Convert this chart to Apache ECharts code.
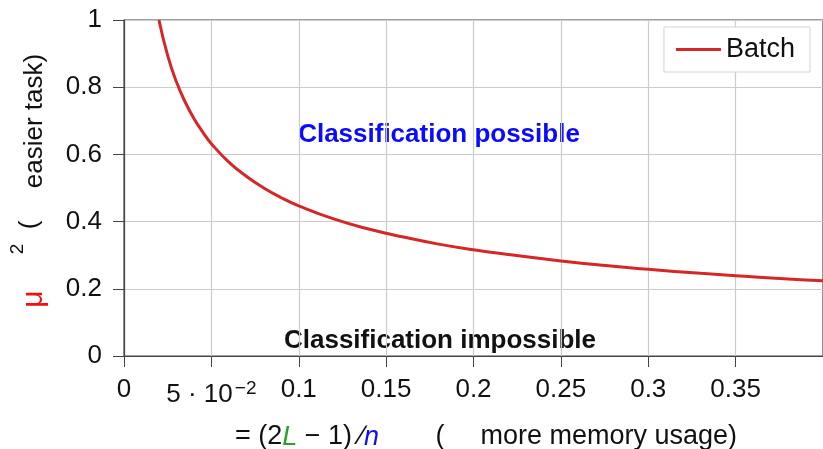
<!DOCTYPE html>
<html><head><meta charset="utf-8">
<script src="https://cdn.jsdelivr.net/npm/echarts@6/dist/echarts.min.js"></script>
<style>html,body{margin:0;padding:0;background:#fff}#c{width:823px;height:449px}</style>
</head><body><div id="c"></div>
<script>
const xValues = [0.02, 0.025, 0.03, 0.035, 0.04, 0.045, 0.05, 0.06, 0.07, 0.08, 0.09, 0.1, 0.12, 0.14, 0.16, 0.18, 0.2, 0.22, 0.25, 0.28, 0.3, 0.33, 0.35, 0.38, 0.4];
const batchValues = [1.0, 0.894, 0.816, 0.756, 0.707, 0.667, 0.632, 0.577, 0.535, 0.5, 0.471, 0.447, 0.408, 0.378, 0.354, 0.333, 0.316, 0.302, 0.283, 0.267, 0.258, 0.246, 0.239, 0.229, 0.224];
const xTicks = [0, 0.05, 0.1, 0.15, 0.2, 0.25, 0.3, 0.35];
const yTicks = [0, 0.2, 0.4, 0.6, 0.8, 1];
const seriesName = 'Batch';

const F = 'Liberation Sans';
const chart = echarts.init(document.getElementById('c'));
chart.setOption({
  animation: false,
  textStyle: {fontFamily: F},
  grid: {left: 124, top: 20, right: 0, bottom: 93, show: true, borderColor: '#444', borderWidth: 1.2},
  legend: {
    right: 13, top: 27, padding: [9, 15, 9, 12],
    borderColor: '#d4d4d4', borderWidth: 1, backgroundColor: '#fff',
    icon: 'rect', itemWidth: 45, itemHeight: 3, itemGap: 8,
    textStyle: {fontFamily: F, fontSize: 27, color: '#111'},
    data: [seriesName]
  },
  xAxis: {
    type: 'value', min: 0, max: 0.4, interval: 0.05,
    axisLine: {show: true, lineStyle: {color: '#444', width: 1.2}},
    axisTick: {show: true, length: 11, lineStyle: {color: '#444'}},
    splitLine: {show: true, lineStyle: {color: '#cccccc', width: 1.2}},
    axisLabel: {
      showMaxLabel: false, margin: 21, fontSize: 26, color: '#111', fontFamily: F,
      formatter: function (v) {
        const t = xTicks.find(k => Math.abs(k - v) < 1e-9);
        if (t === undefined) return '';
        if (Math.abs(t - 0.05) < 1e-9) return '{e|5 · 10}{s|−2}';
        return String(t);
      },
      rich: {
        e: {fontSize: 26, fontFamily: F, color: '#111', padding: [5, 0, 0, 0]},
        s: {fontSize: 19, fontFamily: F, color: '#111', padding: [0, 0, 8, 2]}
      }
    }
  },
  yAxis: {
    type: 'value', min: 0, max: 1, interval: 0.2,
    axisLine: {show: true, lineStyle: {color: '#444', width: 1.2}},
    axisTick: {show: true, length: 11, lineStyle: {color: '#444'}},
    splitLine: {show: true, lineStyle: {color: '#cccccc', width: 1.2}},
    axisLabel: {
      margin: 22, fontSize: 26, color: '#111', fontFamily: F,
      formatter: function (v) {
        const t = yTicks.find(k => Math.abs(k - v) < 1e-9);
        return t === undefined ? '' : String(t);
      }
    }
  },
  series: [{
    name: seriesName, type: 'line', smooth: true, showSymbol: false,
    color: '#d62728', lineStyle: {width: 3, color: '#d62728'},
    data: xValues.map((x, i) => [x, batchValues[i]])
  }],
  graphic: [
    {type: 'text', style: {text: 'Classification possible', x: 439, y: 135, align: 'center', verticalAlign: 'middle', font: 'bold 26px "Liberation Sans"', fill: '#0a0aff'}},
    {type: 'text', style: {text: 'Classification impossible', x: 440, y: 341, align: 'center', verticalAlign: 'middle', font: 'bold 26px "Liberation Sans"', fill: '#111'}},
    {type: 'text', style: {
      text: '{a|= (2}{g|L}{a| − 1) ∕}{b|n}',
      x: 235, y: 437, align: 'left', verticalAlign: 'middle',
      rich: {
        a: {fontFamily: F, fontSize: 27, fill: '#111'},
        g: {fontFamily: F, fontSize: 27, fill: '#2ca02c', fontStyle: 'italic'},
        b: {fontFamily: F, fontSize: 27, fill: '#1010ee', fontStyle: 'italic'}
      }
    }},
    {type: 'text', style: {text: '(', x: 440, y: 437, align: 'center', verticalAlign: 'middle', font: '27px "Liberation Sans"', fill: '#111'}},
    {type: 'text', style: {text: 'more memory usage)', x: 737, y: 437, align: 'right', verticalAlign: 'middle', font: '27px "Liberation Sans"', fill: '#111'}},
    {type: 'text', rotation: Math.PI / 2, x: 34, y: 299, style: {text: 'μ', align: 'center', verticalAlign: 'middle', font: '30px "Liberation Sans"', fill: '#ee1111'}},
    {type: 'text', rotation: Math.PI / 2, x: 18, y: 249, style: {text: '2', align: 'center', verticalAlign: 'middle', font: '19px "Liberation Sans"', fill: '#111'}},
    {type: 'text', rotation: Math.PI / 2, x: 30, y: 225, style: {text: '(', align: 'center', verticalAlign: 'middle', font: '26px "Liberation Sans"', fill: '#111'}},
    {type: 'text', rotation: Math.PI / 2, x: 35, y: 121, style: {text: 'easier task)', align: 'center', verticalAlign: 'middle', font: '26px "Liberation Sans"', fill: '#111'}}
  ]
});
</script></body></html>
